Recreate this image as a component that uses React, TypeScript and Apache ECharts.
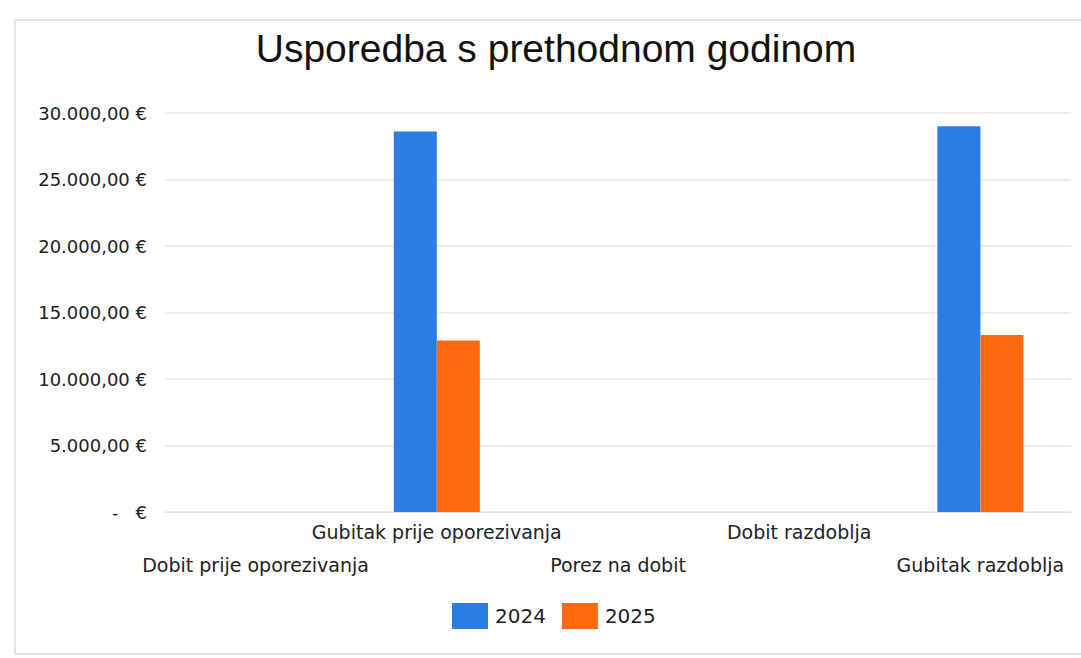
import React, { useEffect, useRef } from "react";
import * as echarts from "echarts";

const categories = [
  "Dobit prije oporezivanja",
  "Gubitak prije oporezivanja",
  "Porez na dobit",
  "Dobit razdoblja",
  "Gubitak razdoblja",
];
const series2024 = [0, 28600, 0, 0, 29000];
const series2025 = [0, 12900, 0, 0, 13300];
const yTicks = [0, 5000, 10000, 15000, 20000, 25000, 30000];

function fmtEuro(v: number): string {
  if (v === 0) return "-   €";
  const s = Math.round(v).toString().replace(/\B(?=(\d{3})+(?!\d))/g, ".");
  return s + ",00 €";
}

export default function App() {
  const ref = useRef<HTMLDivElement>(null);
  useEffect(() => {
    if (!ref.current) return;
    const chart = echarts.init(ref.current, undefined, { renderer: "svg" });
    chart.setOption({
      animation: false,
      backgroundColor: "#ffffff",
      title: {
        text: "Usporedba s prethodnom godinom",
        left: 551,
        textAlign: "center",
        top: 24,
        textStyle: {
          fontFamily: "Liberation Sans",
          fontSize: 39,
          fontWeight: "normal",
          color: "#111111",
        },
      },
      graphic: [
        {
          type: "rect",
          shape: { x: 15, y: 20, width: 1080, height: 634 },
          style: { fill: "none", stroke: "#e4e4e4", lineWidth: 2 },
          silent: true,
        },
      ],
      legend: {
        data: ["2024", "2025"],
        left: 447,
        top: 598,
        itemWidth: 36,
        itemHeight: 26,
        itemGap: 16,
        icon: "rect",
        textStyle: {
          fontFamily: "DejaVu Sans",
          fontSize: 20,
          color: "#222222",
          padding: [0, 0, 0, 2],
        },
      },
      grid: { left: 165, right: 10, top: 113, bottom: 146, containLabel: false },
      xAxis: {
        type: "category",
        data: categories,
        axisLine: { show: true, lineStyle: { color: "#dddddd" } },
        axisTick: { show: false },
        axisLabel: {
          interval: 0,
          fontFamily: "DejaVu Sans",
          fontSize: 19,
          color: "#222222",
          lineHeight: 33,
          margin: 3,
          formatter: (v: string, i: number) => (i % 2 === 0 ? "\n" + v : v),
        },
      },
      yAxis: {
        type: "value",
        min: 0,
        max: 30000,
        interval: 5000,
        axisLine: { show: false },
        axisTick: { show: false },
        splitLine: { lineStyle: { color: "#e6e6e6", width: 1.5 } },
        axisLabel: {
          fontFamily: "DejaVu Sans",
          fontSize: 18,
          color: "#222222",
          margin: 18,
          formatter: (v: number) => (yTicks.includes(v) ? fmtEuro(v) : ""),
        },
      },
      series: [
        {
          name: "2024",
          type: "bar",
          data: series2024,
          barWidth: 43,
          barGap: "0%",
          itemStyle: { color: "#2b7de3" },
        },
        {
          name: "2025",
          type: "bar",
          data: series2025,
          barWidth: 43,
          itemStyle: { color: "#ff6a10" },
        },
      ],
    });
    return () => chart.dispose();
  }, []);
  return (
    <div
      ref={ref}
      style={{ position: "absolute", left: 0, top: 0, width: 1081, height: 658 }}
    />
  );
}
